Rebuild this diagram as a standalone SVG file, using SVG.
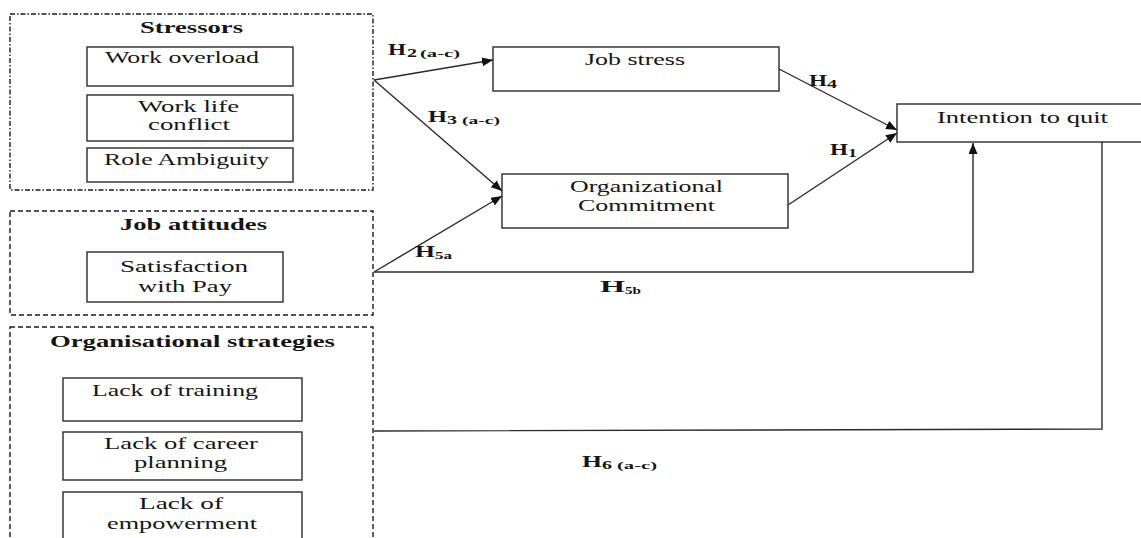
<svg xmlns="http://www.w3.org/2000/svg" width="1141" height="538" viewBox="0 0 1141 538">
<style>
.bg{fill:#fff}
.box{fill:#fff;stroke:#2a2a2a;stroke-width:1.4}
.grp1{fill:none;stroke:#1a1a1a;stroke-width:1.4;stroke-dasharray:5 2 1.5 2}
.grp2{fill:none;stroke:#1a1a1a;stroke-width:1.4;stroke-dasharray:5 3}
.t{font-family:"Liberation Serif","Times New Roman",serif;font-size:16px;fill:#151515}
.tb{font-family:"Liberation Serif","Times New Roman",serif;font-size:17px;font-weight:bold;fill:#151515}
.h{font-family:"Liberation Serif","Times New Roman",serif;font-size:17px;font-weight:bold;fill:#151515}
.s{font-family:"Liberation Serif","Times New Roman",serif;font-size:13px;font-weight:bold;fill:#151515}
.ss{font-family:"Liberation Serif","Times New Roman",serif;font-size:10px;font-weight:bold;fill:#151515}
.c{fill:none;stroke:#2a2a2a;stroke-width:1.4}
</style>
<defs>
<marker id="arr" markerUnits="userSpaceOnUse" markerWidth="11" markerHeight="9" refX="11" refY="4.5" orient="auto">
<path d="M0,0 L11,4.5 L0,9 z" fill="#111"/>
</marker>
</defs>
<rect class="bg" x="0" y="0" width="1141" height="538"/>

<g id="stressors">
<rect class="grp1" x="10" y="14" width="363" height="176"/>
<text class="tb" x="140" y="33" textLength="103" lengthAdjust="spacingAndGlyphs">Stressors</text>
</g>
<g id="work-overload">
<rect class="box" x="87" y="47" width="206" height="39"/>
<text class="t" x="105" y="63" textLength="154" lengthAdjust="spacingAndGlyphs">Work overload</text>
</g>
<g id="work-life-conflict">
<rect class="box" x="87" y="95" width="206" height="46"/>
<text class="t" x="138" y="112" textLength="101" lengthAdjust="spacingAndGlyphs">Work life</text>
<text class="t" x="148" y="130" textLength="82" lengthAdjust="spacingAndGlyphs">conflict</text>
</g>
<g id="role-ambiguity">
<rect class="box" x="87" y="148" width="206" height="34"/>
<text class="t" x="104" y="165" textLength="165" lengthAdjust="spacingAndGlyphs">Role Ambiguity</text>
</g>

<g id="job-attitudes">
<rect class="grp2" x="10" y="211" width="363" height="104"/>
<text class="tb" x="120" y="230" textLength="147" lengthAdjust="spacingAndGlyphs">Job attitudes</text>
</g>
<g id="satisfaction-with-pay">
<rect class="box" x="87" y="252" width="196" height="50"/>
<text class="t" x="120" y="272" textLength="128" lengthAdjust="spacingAndGlyphs">Satisfaction</text>
<text class="t" x="138" y="292" textLength="94" lengthAdjust="spacingAndGlyphs">with Pay</text>
</g>

<g id="organisational-strategies">
<rect class="grp2" x="10" y="327" width="363" height="230"/>
<text class="tb" x="50" y="347" textLength="285" lengthAdjust="spacingAndGlyphs">Organisational strategies</text>
</g>
<g id="lack-of-training">
<rect class="box" x="63" y="378" width="239" height="43"/>
<text class="t" x="92" y="396" textLength="166" lengthAdjust="spacingAndGlyphs">Lack of training</text>
</g>
<g id="lack-of-career-planning">
<rect class="box" x="63" y="432" width="239" height="48"/>
<text class="t" x="104" y="449" textLength="154" lengthAdjust="spacingAndGlyphs">Lack of career</text>
<text class="t" x="134" y="468" textLength="93" lengthAdjust="spacingAndGlyphs">planning</text>
</g>
<g id="lack-of-empowerment">
<rect class="box" x="63" y="492" width="239" height="60"/>
<text class="t" x="139" y="509" textLength="84" lengthAdjust="spacingAndGlyphs">Lack of</text>
<text class="t" x="107" y="529" textLength="150" lengthAdjust="spacingAndGlyphs">empowerment</text>
</g>

<g id="job-stress">
<rect class="box" x="493" y="47" width="286" height="44"/>
<text class="t" x="585" y="65" textLength="100" lengthAdjust="spacingAndGlyphs">Job stress</text>
</g>
<g id="organizational-commitment">
<rect class="box" x="502" y="174" width="286" height="54"/>
<text class="t" x="570" y="192" textLength="153" lengthAdjust="spacingAndGlyphs">Organizational</text>
<text class="t" x="578" y="211" textLength="137" lengthAdjust="spacingAndGlyphs">Commitment</text>
</g>
<g id="intention-to-quit">
<rect class="box" x="897" y="104" width="260" height="38"/>
<text class="t" x="937" y="123" textLength="171" lengthAdjust="spacingAndGlyphs">Intention to quit</text>
</g>

<g id="connectors">
<line class="c" x1="374" y1="80" x2="493" y2="60" marker-end="url(#arr)"/>
<line class="c" x1="374" y1="80" x2="502" y2="191" marker-end="url(#arr)"/>
<line class="c" x1="374" y1="272" x2="502" y2="196" marker-end="url(#arr)"/>
<line class="c" x1="779" y1="69" x2="897" y2="130" marker-end="url(#arr)"/>
<line class="c" x1="788" y1="205" x2="897" y2="133" marker-end="url(#arr)"/>
<polyline class="c" points="374,272 973,272 973,143" marker-end="url(#arr)"/>
<polyline class="c" points="374,431 1102,429 1102,142"/>
</g>

<g id="labels">
<text class="h" x="388" y="55" textLength="18" lengthAdjust="spacingAndGlyphs">H</text>
<text class="s" x="407" y="57" textLength="10" lengthAdjust="spacingAndGlyphs">2</text>
<text class="ss" x="420" y="57" textLength="40" lengthAdjust="spacingAndGlyphs">(a-c)</text>

<text class="h" x="428" y="122" textLength="19" lengthAdjust="spacingAndGlyphs">H</text>
<text class="s" x="447" y="124" textLength="10" lengthAdjust="spacingAndGlyphs">3</text>
<text class="ss" x="462" y="124" textLength="38" lengthAdjust="spacingAndGlyphs">(a-c)</text>

<text class="h" x="809" y="86" textLength="18" lengthAdjust="spacingAndGlyphs">H</text>
<text class="s" x="827" y="88" textLength="10" lengthAdjust="spacingAndGlyphs">4</text>

<text class="h" x="830" y="155" textLength="18" lengthAdjust="spacingAndGlyphs">H</text>
<text class="s" x="848" y="157" textLength="9" lengthAdjust="spacingAndGlyphs">1</text>

<text class="h" x="415" y="257" textLength="20" lengthAdjust="spacingAndGlyphs">H</text>
<text class="ss" x="435" y="259" textLength="17" lengthAdjust="spacingAndGlyphs">5a</text>

<text class="h" x="600" y="292" textLength="25" lengthAdjust="spacingAndGlyphs">H</text>
<text class="ss" x="625" y="294" textLength="16" lengthAdjust="spacingAndGlyphs">5b</text>

<text class="h" x="582" y="467" textLength="20" lengthAdjust="spacingAndGlyphs">H</text>
<text class="s" x="602" y="469" textLength="10" lengthAdjust="spacingAndGlyphs">6</text>
<text class="ss" x="617" y="469" textLength="40" lengthAdjust="spacingAndGlyphs">(a-c)</text>
</g>
</svg>
